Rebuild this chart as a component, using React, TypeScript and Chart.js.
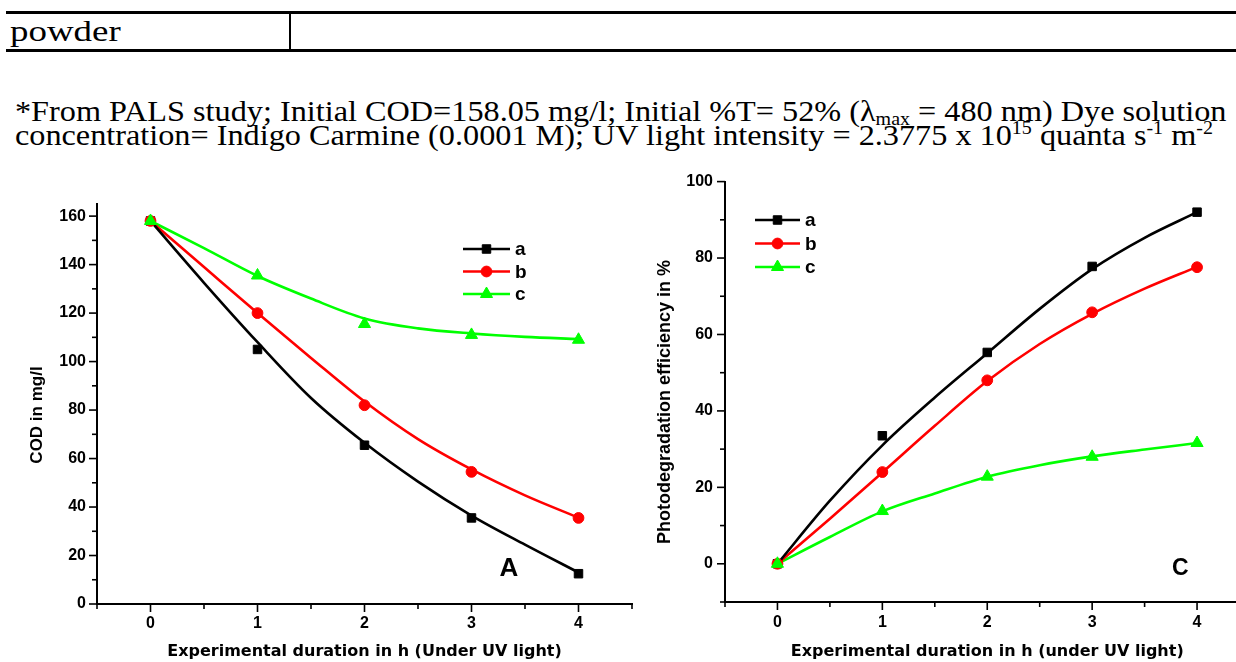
import React, { useEffect, useRef } from "react";
import { Chart, registerables } from "chart.js";
import { drawPoint } from "chart.js/helpers";

Chart.register(...registerables);

// ---------- data: measured points (markers) ----------
const hours = [0, 1, 2, 3, 4];
const seriesLabels = ["a", "b", "c"];
const codA = [158, 105, 65.5, 35.5, 12.5];
const codB = [158, 120, 82, 54.5, 35.5];
const codC = [158, 135.5, 115.5, 111, 109];
const effA = [0, 33.5, 55.3, 77.8, 92];
const effB = [0, 24, 48, 65.8, 77.6];
const effC = [0, 13.8, 22.8, 28, 31.6];

// ---------- data: fitted curves ----------
const curveHours = [0, 0.5, 1, 1.5, 2, 2.5, 3, 3.5, 4];
const codFitA = [158, 132.5, 108, 85, 66.5, 50.5, 36.5, 24.5, 13];
const codFitB = [158, 139, 120, 101.5, 83.5, 68, 55.5, 44.8, 35.6];
const codFitC = [158, 146.8, 135.3, 126, 117.8, 113.7, 111.6, 110.2, 109.3];
const effFitA = [0, 16.5, 31, 43.5, 55.1, 66.7, 77.1, 85.3, 92];
const effFitB = [0, 11.8, 23.9, 36.1, 47.8, 57.5, 65.4, 72, 77.7];
const effFitC = [0, 7, 13.7, 18.4, 22.8, 25.8, 28.1, 29.9, 31.6];

const hourTicks = [0, 1, 2, 3, 4];
const hourMinor = [-0.5, 0.5, 1.5, 2.5, 3.5, 4.5];
const codTicks = [0, 20, 40, 60, 80, 100, 120, 140, 160];
const codMinor = [10, 30, 50, 70, 90, 110, 130, 150];
const effTicks = [0, 20, 40, 60, 80, 100];
const effMinor = [-10, 10, 30, 50, 70, 90];

const colors = ["#000000", "#ff0000", "#00ff00"];
const pointStyles = ["rect", "circle", "triangle"];
const pointRadii = [6, 5.4, 7];

const SANS = "'Liberation Sans', Arial, sans-serif";

const extrasPlugin = {
  id: "extras",
  afterDraw(chart: any, _args: any, opts: any) {
    const ctx = chart.ctx;
    const xs = chart.scales.x;
    const ys = chart.scales.y;
    const { left, bottom } = chart.chartArea;
    ctx.save();
    ctx.strokeStyle = "#000";
    ctx.lineWidth = 1.6;
    const drawX = (vals: number[], len: number) =>
      vals.forEach((v) => {
        const px = xs.getPixelForValue(v);
        ctx.beginPath();
        ctx.moveTo(px, bottom);
        ctx.lineTo(px, bottom + len);
        ctx.stroke();
      });
    const drawY = (vals: number[], len: number) =>
      vals.forEach((v) => {
        const py = ys.getPixelForValue(v);
        ctx.beginPath();
        ctx.moveTo(left, py);
        ctx.lineTo(left - len, py);
        ctx.stroke();
      });
    drawX(opts.xMajor, 8);
    drawX(opts.xMinor, 5);
    drawY(opts.yMajor, 8);
    drawY(opts.yMinor, 5);

    // y title
    ctx.save();
    ctx.translate(opts.yTitleX, opts.yTitleY);
    ctx.rotate(-Math.PI / 2);
    ctx.font = opts.yTitleFont;
    ctx.fillStyle = "#000";
    ctx.textAlign = "center";
    ctx.textBaseline = "middle";
    ctx.fillText(opts.yTitle, 0, 0);
    ctx.restore();

    // panel label
    ctx.font = opts.panelFont;
    ctx.fillStyle = "#000";
    ctx.textAlign = "center";
    ctx.textBaseline = "middle";
    ctx.fillText(
      opts.panel,
      xs.getPixelForValue(opts.panelAt[0]),
      ys.getPixelForValue(opts.panelAt[1])
    );

    // legend (marker datasets only)
    chart.data.datasets
      .filter((ds: any) => ds.isMarker)
      .forEach((ds: any, i: number) => {
        const y = opts.legendY + i * opts.legendDy;
        ctx.strokeStyle = ds.borderColor;
        ctx.lineWidth = 2.6;
        ctx.beginPath();
        ctx.moveTo(opts.legendX, y);
        ctx.lineTo(opts.legendX + opts.legendW, y);
        ctx.stroke();
        ctx.fillStyle = ds.backgroundColor;
        ctx.lineWidth = 1;
        drawPoint(
          ctx,
          { pointStyle: ds.pointStyle, radius: ds.pointRadius, rotation: 0, borderWidth: 1 },
          opts.legendX + opts.legendW / 2,
          y
        );
        ctx.fillStyle = "#000";
        ctx.font = `bold 19px ${SANS}`;
        ctx.textAlign = "left";
        ctx.textBaseline = "middle";
        ctx.fillText(ds.label, opts.legendX + opts.legendW + 5, y + 1);
      });
    ctx.restore();
  },
};

function makeDatasets(points: number[][], curves: number[][]) {
  const markers = points.map((vals, i) => ({
    label: seriesLabels[i],
    isMarker: true,
    data: hours.map((h, j) => ({ x: h, y: vals[j] })),
    borderColor: colors[i],
    backgroundColor: colors[i],
    pointStyle: pointStyles[i],
    pointRadius: pointRadii[i],
    pointBorderWidth: 1,
    showLine: false,
    clip: false,
    order: 3 - i,
  }));
  const lines = curves.map((vals, i) => ({
    label: seriesLabels[i] + " fit",
    isMarker: false,
    data: curveHours.map((h, j) => ({ x: h, y: vals[j] })),
    borderColor: colors[i],
    backgroundColor: colors[i],
    borderWidth: 2.6,
    pointRadius: 0,
    showLine: true,
    cubicInterpolationMode: "monotone",
    clip: false,
    order: 10,
  }));
  return [...markers, ...lines];
}

function axisX(title: string, padTicks: number, min: number, max: number, height: number) {
  return {
    type: "linear",
    min,
    max,
    afterBuildTicks: (s: any) => {
      s.ticks = hourTicks.map((v) => ({ value: v }));
    },
    afterFit: (s: any) => {
      s.height = height;
    },
    grid: { display: false, drawTicks: false },
    border: { display: true, color: "#000", width: 2 },
    ticks: {
      padding: padTicks,
      color: "#000",
      autoSkip: false,
      maxRotation: 0,
      font: { family: SANS, size: 16, weight: "bold" },
    },
    title: {
      display: true,
      text: title,
      color: "#000",
      font: { family: "'DejaVu Sans', sans-serif", size: 16, weight: "bold" },
      padding: { top: 0, bottom: 1 },
    },
  };
}

function axisY(min: number, max: number, ticks: number[], width: number, padTicks: number) {
  return {
    type: "linear",
    min,
    max,
    afterBuildTicks: (s: any) => {
      s.ticks = ticks.map((v) => ({ value: v }));
    },
    afterFit: (s: any) => {
      s.width = width;
    },
    grid: { display: false, drawTicks: false },
    border: { display: true, color: "#000", width: 2 },
    ticks: {
      padding: padTicks,
      color: "#000",
      autoSkip: false,
      font: { family: SANS, size: 16, weight: "bold" },
    },
  };
}

function ChartCanvas({ config, width, height, style }: any) {
  const ref = useRef<HTMLCanvasElement | null>(null);
  useEffect(() => {
    if (!ref.current) return;
    const chart = new Chart(ref.current, config);
    return () => chart.destroy();
  }, []);
  return (
    <canvas
      ref={ref}
      width={width}
      height={height}
      style={{ position: "absolute", display: "block", width, height, ...style }}
    />
  );
}

const configA: any = {
  type: "scatter",
  data: { datasets: makeDatasets([codA, codB, codC], [codFitA, codFitB, codFitC]) },
  plugins: [extrasPlugin],
  options: {
    animation: false,
    responsive: false,
    events: [],
    layout: { padding: { left: 0, top: 24, right: 4, bottom: 0 } },
    plugins: {
      legend: { display: false },
      tooltip: { enabled: false },
      extras: {
        xMajor: hourTicks,
        xMinor: hourMinor,
        yMajor: codTicks,
        yMinor: codMinor,
        yTitle: "COD in mg/l",
        yTitleX: 37,
        yTitleY: 235,
        yTitleFont: `bold 17px ${SANS}`,
        panel: "A",
        panelAt: [3.35, 14.5],
        panelFont: `bold 26px ${SANS}`,
        legendX: 463,
        legendY: 69,
        legendDy: 22.5,
        legendW: 47,
      },
    },
    scales: {
      x: axisX("Experimental duration in h (Under UV light)", 10, -0.5, 4.5, 58),
      y: axisY(0, 165, codTicks, 97, 11),
    },
  },
};

const configC: any = {
  type: "scatter",
  data: { datasets: makeDatasets([effA, effB, effC], [effFitA, effFitB, effFitC]) },
  plugins: [extrasPlugin],
  options: {
    animation: false,
    responsive: false,
    events: [],
    layout: { padding: { left: 0, top: 16, right: 10.5, bottom: 0 } },
    plugins: {
      legend: { display: false },
      tooltip: { enabled: false },
      extras: {
        xMajor: hourTicks,
        xMinor: hourMinor,
        yMajor: effTicks,
        yMinor: effMinor,
        yTitle: "Photodegradation efficiency in %",
        yTitleX: 25.5,
        yTitleY: 242,
        yTitleFont: `bold 18px ${SANS}`,
        panel: "C",
        panelAt: [3.84, -1.4],
        panelFont: `bold 23px ${SANS}`,
        legendX: 115,
        legendY: 60,
        legendDy: 23.5,
        legendW: 45,
      },
    },
    scales: {
      x: axisX("Experimental duration in h (under UV light)", 11, -0.5, 4.5, 60),
      y: axisY(-10, 100, effTicks, 85, 12),
    },
  },
};

const tableCell = "powder";
const noteLine1 = "*From PALS study; Initial COD=158.05 mg/l; Initial %T= 52% (";
const noteLine1b = " = 480 nm) Dye solution";
const noteLine2 = "concentration= Indigo Carmine (0.0001 M); UV light intensity = 2.3775 x 10";

const supStyle: React.CSSProperties = {
  fontSize: "0.62em",
  position: "relative",
  top: "-0.62em",
  lineHeight: 0,
};
const subStyle: React.CSSProperties = {
  fontSize: "0.62em",
  position: "relative",
  top: "0.25em",
  lineHeight: 0,
};

export default function App() {
  const serif = "'Liberation Serif', 'Times New Roman', serif";
  const lineStyle: React.CSSProperties = {
    position: "absolute",
    left: 15,
    fontSize: 29,
    lineHeight: "29px",
    whiteSpace: "nowrap",
    fontFamily: serif,
    color: "#000",
    transformOrigin: "0 0",
    transform: "scaleX(1.112)",
  };
  return (
    <div
      style={{
        position: "absolute",
        left: 0,
        top: 0,
        width: 1236,
        height: 662,
        overflow: "hidden",
        background: "#fff",
      }}
    >
      <div style={{ position: "absolute", left: 6, top: 11, width: 1230, height: 3, background: "#000" }} />
      <div style={{ position: "absolute", left: 6, top: 49, width: 1230, height: 3, background: "#000" }} />
      <div style={{ position: "absolute", left: 289, top: 14, width: 1.5, height: 35, background: "#000" }} />
      <div
        style={{
          ...lineStyle,
          left: 10,
          top: 16,
          fontSize: 30,
          lineHeight: "30px",
          transform: "scaleX(1.23)",
        }}
      >
        {tableCell}
      </div>
      <div style={{ ...lineStyle, top: 97 }}>
        {noteLine1}λ<span style={subStyle}>max</span>
        {noteLine1b}
      </div>
      <div style={{ ...lineStyle, top: 121 }}>
        {noteLine2}
        <span style={supStyle}>15</span> quanta s<span style={supStyle}>-1</span> m
        <span style={supStyle}>-2</span>
      </div>
      <ChartCanvas config={configA} width={640} height={482} style={{ left: 0, top: 180 }} />
      <ChartCanvas config={configC} width={620} height={502} style={{ left: 640, top: 160 }} />
    </div>
  );
}
